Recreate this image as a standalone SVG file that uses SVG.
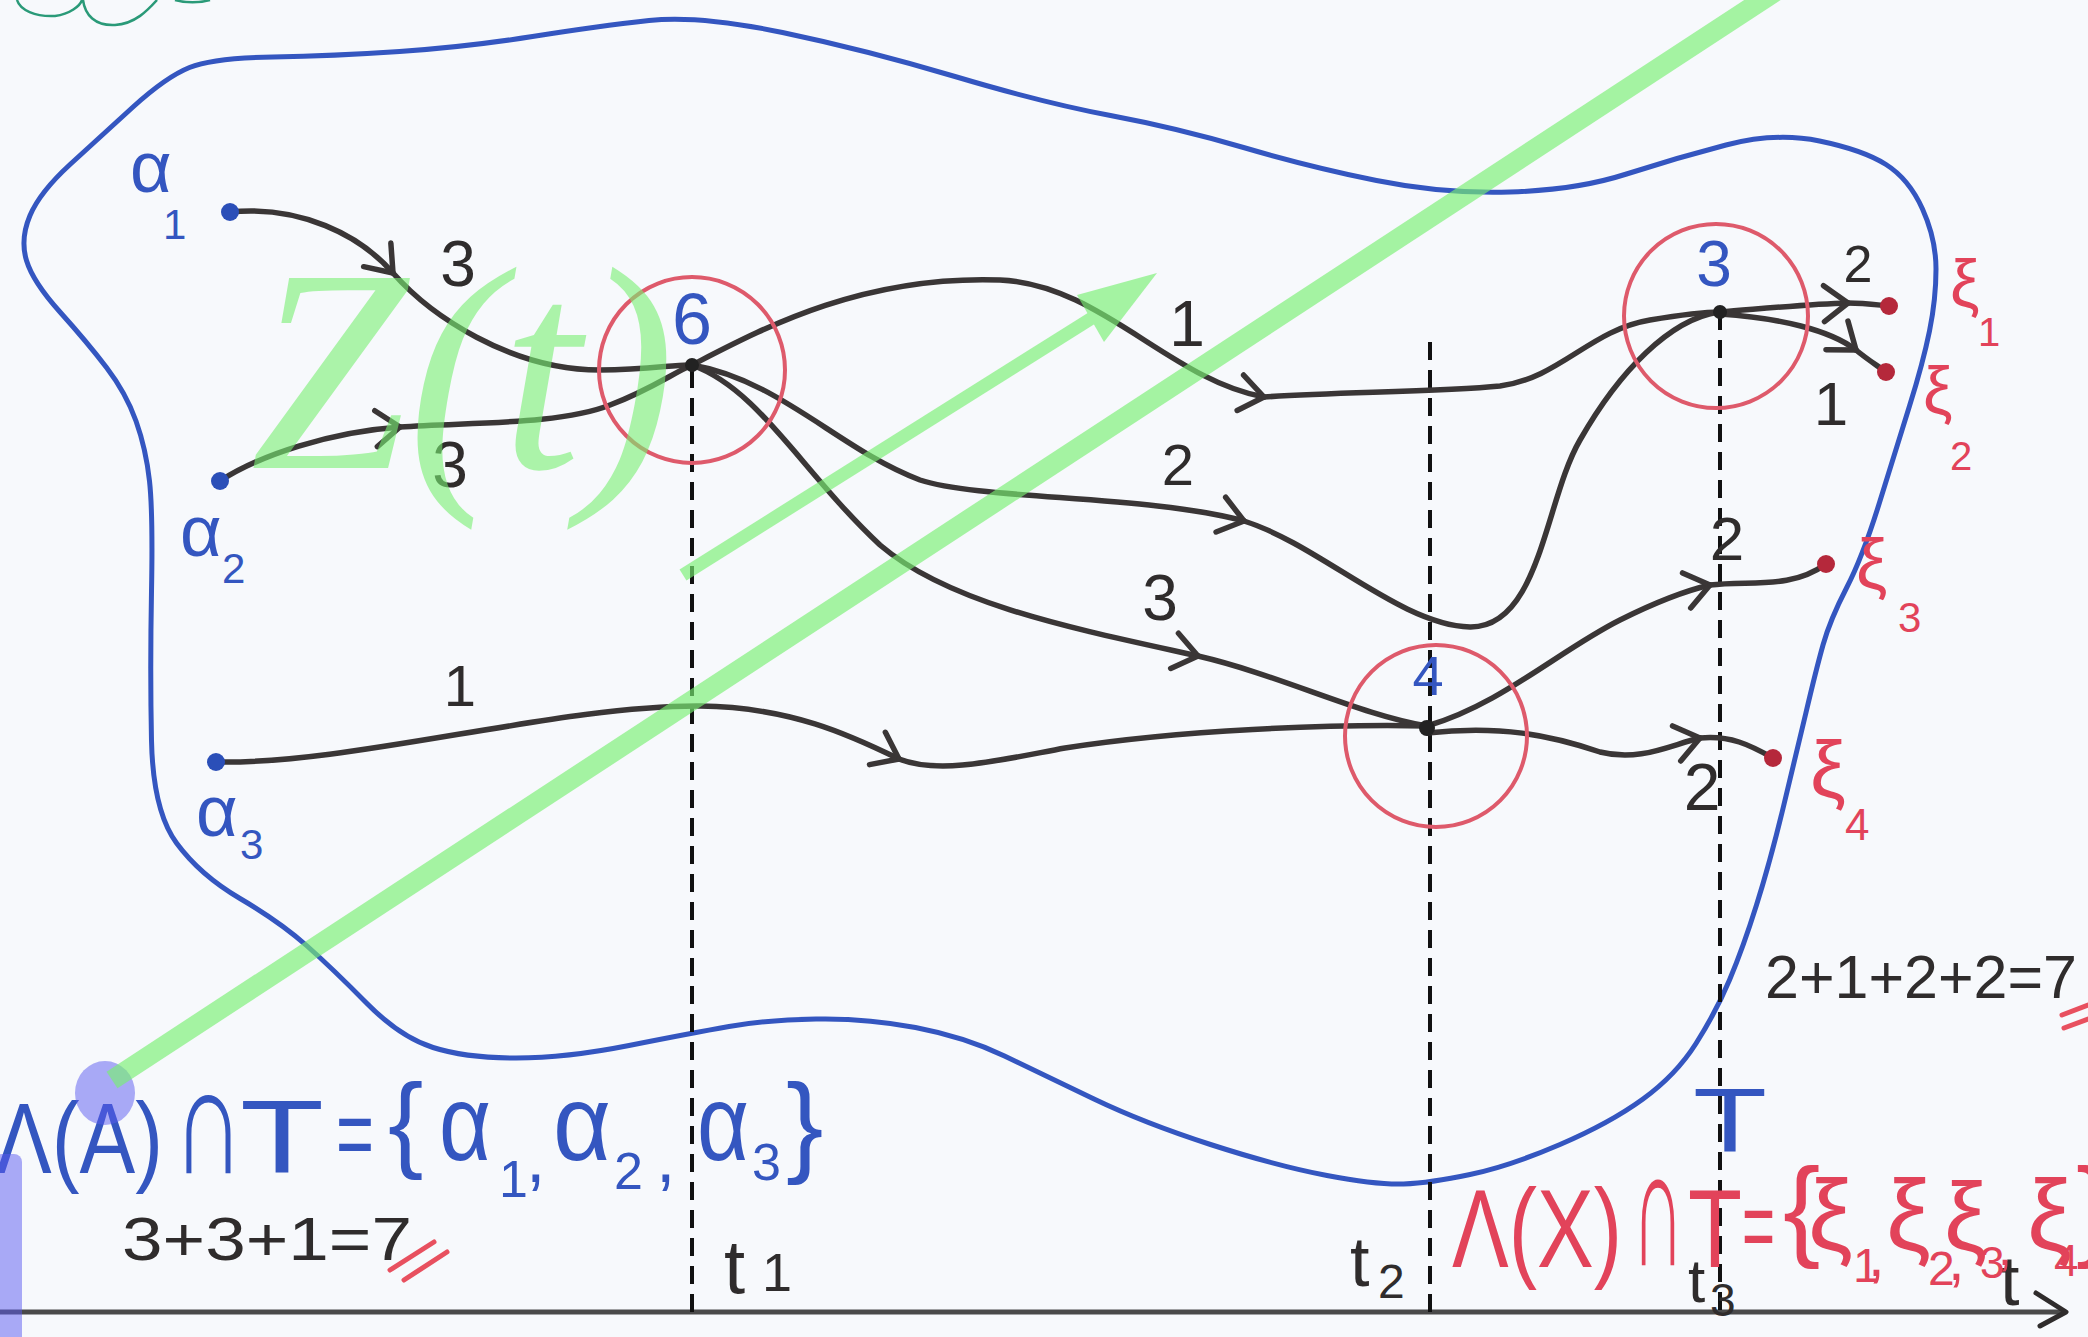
<svg xmlns="http://www.w3.org/2000/svg" width="2088" height="1337" viewBox="0 0 2088 1337">
<style>
.edge{fill:none;stroke:#3a3636;stroke-width:5.5;stroke-linecap:round;stroke-linejoin:round}
.num{font-family:"Liberation Sans","DejaVu Sans",sans-serif;fill:#2f2c2c;text-anchor:middle}
.blk{font-family:"Liberation Sans","DejaVu Sans",sans-serif;fill:#2f2c2c}
.blue{font-family:"Liberation Sans","DejaVu Sans",sans-serif;fill:#3456c0}
.red{font-family:"Liberation Sans","DejaVu Sans",sans-serif;fill:#e2435a}
.ring{fill:none;stroke:#de5a6b;stroke-width:4}
.dash{stroke:#111;stroke-width:4;stroke-dasharray:18 10}
.slash{stroke:#e8505f;stroke-width:5;stroke-linecap:round}
</style>
<defs>
<marker id="chev" viewBox="-30 -25 36 50" refX="0" refY="0" markerWidth="36" markerHeight="50" markerUnits="userSpaceOnUse" orient="auto">
<path d="M-24,-18 L0,0 L-24,18" fill="none" stroke="#3a3636" stroke-width="5.5" stroke-linecap="round" stroke-linejoin="round"/>
</marker>
</defs>
<rect width="2088" height="1337" fill="#f7f9fc"/>
<path d="M17,0 C20,10 35,17 55,16 C70,14 80,6 82,0 M83,0 C85,15 95,26 115,25 C135,24 148,10 157,0 M175,0 C185,3 200,3 210,0" fill="none" stroke="#2a9a78" stroke-width="2.5"/>
<g id="region-T">
<path d="M273,57 Q213,58 189.5,67.5 Q166,77 133,107 Q100,137 70,164.5 Q40,192 30,215.5 Q20,239 26.5,260.5 Q33,282 60,312 Q87,342 106.5,367.5 Q126,393 136,421 Q146,449 149.5,481 Q153,513 151.5,591.5 Q150,670 151.5,740.5 Q153,811 176.5,843 Q200,875 240,898.5 Q280,922 306.5,945.5 Q333,969 366.5,1003 Q400,1037 433,1047.5 Q466,1058 516,1058 Q566,1058 629,1045.5 Q692,1033 729,1026.5 Q766,1020 816,1019 Q866,1018 915.5,1027.5 Q965,1037 1004.5,1056 Q1044,1075 1094,1099 Q1144,1123 1210.5,1144.5 Q1277,1166 1327,1175.5 Q1377,1185 1403.5,1184 Q1430,1183 1470,1174.5 Q1510,1166 1560,1144.5 Q1610,1123 1643,1099 Q1676,1075 1696,1043.5 Q1716,1012 1729.5,980 Q1743,948 1756.5,905 Q1770,862 1783,808.5 Q1796,755 1806,712.5 Q1816,670 1823,645 Q1830,620 1846.5,588 Q1863,556 1879.5,502.5 Q1896,449 1909.5,406 Q1923,363 1929.5,331 Q1936,299 1936,269 Q1936,239 1922.5,209 Q1909,179 1886,164.5 Q1863,150 1819.5,141 Q1776,132 1726,145 Q1676,158 1626.5,174 Q1577,190 1510,192 Q1443,194 1376.5,180.5 Q1310,167 1243.5,147.5 Q1177,128 1110.5,115.5 Q1044,103 955,76.5 Q866,50 782.5,32.5 Q699,15 649,20.5 Q599,26 532.5,36.5 Q466,47 399.5,51.5 Q333,56 273,57 Z" fill="none" stroke="#3456c0" stroke-width="5"/>
<text class="blue" x="1693" y="1152" font-size="90" textLength="74" lengthAdjust="spacingAndGlyphs">T</text>
</g>
<g id="time-axis">
<line x1="0" y1="1312" x2="2066" y2="1312" stroke="#4a4a4a" stroke-width="5"/>
<path d="M2036,1293 L2066,1312 L2040,1326" fill="none" stroke="#2f2c2c" stroke-width="5" stroke-linecap="round" stroke-linejoin="round"/>
<text class="blk" x="2000" y="1305" font-size="70">t</text>
<line class="dash" x1="692" y1="370" x2="692" y2="1315"/>
<line class="dash" x1="1430" y1="342" x2="1430" y2="1315"/>
<line class="dash" x1="1720" y1="312" x2="1720" y2="1315"/>
<text class="blk" x="724" y="1293" font-size="76">t</text>
<text class="blk" x="762" y="1291" font-size="54">1</text>
<text class="blk" x="1350" y="1286" font-size="70">t</text>
<text class="blk" x="1378" y="1298" font-size="48">2</text>
<text class="blk" x="1688" y="1302" font-size="62">t</text>
<text class="blk" x="1710" y="1316" font-size="46">3</text>
</g>
<g id="connectors">
<g id="e-a1-6"><path class="edge" d="M230,212 C300,205 360,235 393,273" marker-end="url(#chev)"/><path class="edge" d="M393,273 C430,315 510,370 600,370 C650,370 675,364 692,365"/><text class="num" x="458" y="286" font-size="64">3</text></g>
<g id="e-a2-6"><path class="edge" d="M220,481 C260,455 330,432 400,427" marker-end="url(#chev)"/><path class="edge" d="M400,427 C470,422 560,425 610,405 C650,390 675,372 692,365"/><text class="num" x="450" y="487" font-size="64">3</text></g>
<g id="e-a3-4"><path class="edge" d="M216,762 C350,765 560,705 700,706 C790,707 850,735 899,759" marker-end="url(#chev)"/><path class="edge" d="M899,759 C940,775 1000,760 1065,748 C1180,730 1330,724 1427,726"/><text class="num" x="460" y="706" font-size="58">1</text></g>
<g id="e-6-3a"><path class="edge" d="M692,365 C760,330 860,275 1000,280 C1100,284 1170,380 1264,397" marker-end="url(#chev)"/><path class="edge" d="M1264,397 C1340,392 1440,392 1500,386 C1560,378 1590,330 1650,320 C1680,315 1705,312 1720,312"/><text class="num" x="1187" y="346" font-size="64">1</text></g>
<g id="e-6-3b"><path class="edge" d="M692,365 C780,380 840,450 920,480 C980,500 1150,495 1244,521" marker-end="url(#chev)"/><path class="edge" d="M1244,521 C1320,545 1400,625 1470,627 C1540,628 1545,500 1580,440 C1620,370 1670,320 1718,312"/><text class="num" x="1178" y="485" font-size="58">2</text></g>
<g id="e-6-4"><path class="edge" d="M692,365 C760,390 800,470 880,545 C950,605 1080,630 1198,656" marker-end="url(#chev)"/><path class="edge" d="M1198,656 C1280,675 1360,715 1427,726"/><text class="num" x="1160" y="620" font-size="64">3</text></g>
<g id="e-4-x3"><path class="edge" d="M1427,726 C1500,705 1560,650 1620,620 C1650,605 1680,592 1710,585" marker-end="url(#chev)"/><path class="edge" d="M1710,585 C1750,580 1790,590 1826,564"/><text class="num" x="1727" y="560" font-size="62">2</text></g>
<g id="e-4-x4"><path class="edge" d="M1427,733 C1500,725 1550,735 1600,752 C1640,762 1670,745 1700,738" marker-end="url(#chev)"/><path class="edge" d="M1700,738 C1730,735 1750,745 1773,758"/><text class="num" x="1702" y="810" font-size="66">2</text></g>
<g id="e-3-x1"><path class="edge" d="M1720,312 C1770,308 1810,304 1848,303" marker-end="url(#chev)"/><path class="edge" d="M1848,303 C1865,303 1878,305 1889,306"/><text class="num" x="1858" y="282" font-size="52">2</text></g>
<g id="e-3-x2"><path class="edge" d="M1720,314 C1780,318 1830,330 1856,350" marker-end="url(#chev)"/><path class="edge" d="M1856,350 C1868,360 1878,366 1886,372"/><text class="num" x="1831" y="425" font-size="62">1</text></g>
</g>
<g id="alpha1"><circle cx="230" cy="212" r="9" fill="#2b4fb8"/><text class="blue" x="130" y="192" font-size="72">α</text><text class="blue" x="163" y="239" font-size="42">1</text></g>
<g id="alpha2"><circle cx="220" cy="481" r="9" fill="#2b4fb8"/><text class="blue" x="180" y="556" font-size="72">α</text><text class="blue" x="222" y="583" font-size="42">2</text></g>
<g id="alpha3"><circle cx="216" cy="762" r="9" fill="#2b4fb8"/><text class="blue" x="196" y="836" font-size="72">α</text><text class="blue" x="240" y="859" font-size="42">3</text></g>
<g id="node6"><circle class="ring" cx="692" cy="370" r="93"/><circle cx="692" cy="365" r="7" fill="#222"/><text class="blue" x="692" y="344" font-size="72" text-anchor="middle">6</text></g>
<g id="node3"><circle class="ring" cx="1716" cy="316" r="92"/><circle cx="1720" cy="312" r="7" fill="#222"/><text class="blue" x="1714" y="286" font-size="64" text-anchor="middle">3</text></g>
<g id="node4"><circle class="ring" cx="1436" cy="736" r="91"/><circle cx="1427" cy="728" r="8" fill="#222"/><text class="blue" x="1428" y="695" font-size="56" text-anchor="middle">4</text></g>
<g id="xi1"><circle cx="1889" cy="306" r="9" fill="#b5283b"/><text class="red" x="1950" y="306" font-size="66">ξ</text><text class="red" x="1978" y="346" font-size="40">1</text></g>
<g id="xi2"><circle cx="1886" cy="372" r="9" fill="#b5283b"/><text class="red" x="1923" y="413" font-size="66">ξ</text><text class="red" x="1950" y="470" font-size="40">2</text></g>
<g id="xi3"><circle cx="1826" cy="564" r="9" fill="#b5283b"/><text class="red" x="1856" y="588" font-size="70">ξ</text><text class="red" x="1898" y="632" font-size="42">3</text></g>
<g id="xi4"><circle cx="1773" cy="758" r="9" fill="#b5283b"/><text class="red" x="1810" y="797" font-size="80">ξ</text><text class="red" x="1845" y="840" font-size="44">4</text></g>
<g id="annotations">
<text class="blue" x="-4" y="1173" font-size="100" textLength="167" lengthAdjust="spacingAndGlyphs">Λ(A)</text>
<text class="blue" x="173" y="1173" font-size="155" textLength="71" lengthAdjust="spacingAndGlyphs">∩</text>
<text class="blue" x="240" y="1173" font-size="104" textLength="84" lengthAdjust="spacingAndGlyphs">T</text>
<text class="blue" x="336" y="1168" font-size="100" textLength="38" lengthAdjust="spacingAndGlyphs">=</text>
<text class="blue" x="388" y="1158" font-size="106">{</text>
<text class="blue" x="439" y="1160" font-size="108" textLength="52" lengthAdjust="spacingAndGlyphs">α</text><text class="blue" x="499" y="1197" font-size="52">1</text><text class="blue" x="526" y="1182" font-size="70">,</text>
<text class="blue" x="553" y="1160" font-size="108" textLength="58" lengthAdjust="spacingAndGlyphs">α</text><text class="blue" x="614" y="1189" font-size="52">2</text><text class="blue" x="656" y="1182" font-size="70">,</text>
<text class="blue" x="697" y="1160" font-size="108" textLength="52" lengthAdjust="spacingAndGlyphs">α</text><text class="blue" x="752" y="1180" font-size="52">3</text>
<text class="blue" x="786" y="1162" font-size="112">}</text>
<text class="blk" x="122" y="1260" font-size="62" textLength="290" lengthAdjust="spacingAndGlyphs">3+3+1=7</text>
<line class="slash" x1="390" y1="1270" x2="434" y2="1242"/><line class="slash" x1="404" y1="1280" x2="447" y2="1252"/>
<text class="blk" x="1765" y="998" font-size="62" textLength="312" lengthAdjust="spacingAndGlyphs">2+1+2+2=7</text>
<line class="slash" x1="2062" y1="1015" x2="2088" y2="1005"/><line class="slash" x1="2064" y1="1028" x2="2088" y2="1019"/>
<text class="red" x="1452" y="1267" font-size="112" textLength="170" lengthAdjust="spacingAndGlyphs">Λ(X)</text>
<text class="red" x="1632" y="1265" font-size="170" textLength="52" lengthAdjust="spacingAndGlyphs">∩</text>
<text class="red" x="1688" y="1267" font-size="112" textLength="54" lengthAdjust="spacingAndGlyphs">T</text>
<text class="red" x="1742" y="1260" font-size="100" textLength="33" lengthAdjust="spacingAndGlyphs">=</text>
<text class="red" x="1783" y="1246" font-size="112">{</text>
<text class="red" x="1808" y="1250" font-size="100">ξ</text><text class="red" x="1853" y="1282" font-size="48">1</text><text class="red" x="1868" y="1276" font-size="60">,</text>
<text class="red" x="1886" y="1250" font-size="100">ξ</text><text class="red" x="1928" y="1285" font-size="48">2</text><text class="red" x="1948" y="1280" font-size="60">,</text>
<text class="red" x="1944" y="1250" font-size="96">ξ</text><text class="red" x="1980" y="1278" font-size="44">3</text><text class="red" x="1998" y="1265" font-size="50">,</text>
<text class="red" x="2027" y="1250" font-size="100">ξ</text><text class="red" x="2054" y="1276" font-size="44">4</text>
<text class="red" x="2076" y="1246" font-size="112">}</text>
</g>
<g id="overlays">
<rect x="-6" y="1154" width="28" height="190" rx="8" fill="#5a5af0" opacity="0.5"/>
<ellipse cx="105" cy="1093" rx="30" ry="32" fill="#5a5af0" opacity="0.5"/>
<g opacity="0.65" fill="#79f073" stroke="#79f073">
<line x1="112" y1="1080" x2="1793" y2="-20" stroke-width="20"/>
<line x1="683" y1="575" x2="1092" y2="318" stroke-width="13"/>
<polygon points="1157,273 1077,295 1104,342" stroke="none"/>
</g>
<text x="250" y="468" font-family="Liberation Serif, serif" font-style="italic" font-size="290" fill="#79f073" opacity="0.6" textLength="425" lengthAdjust="spacingAndGlyphs">Z(t)</text>
</g>
</svg>
